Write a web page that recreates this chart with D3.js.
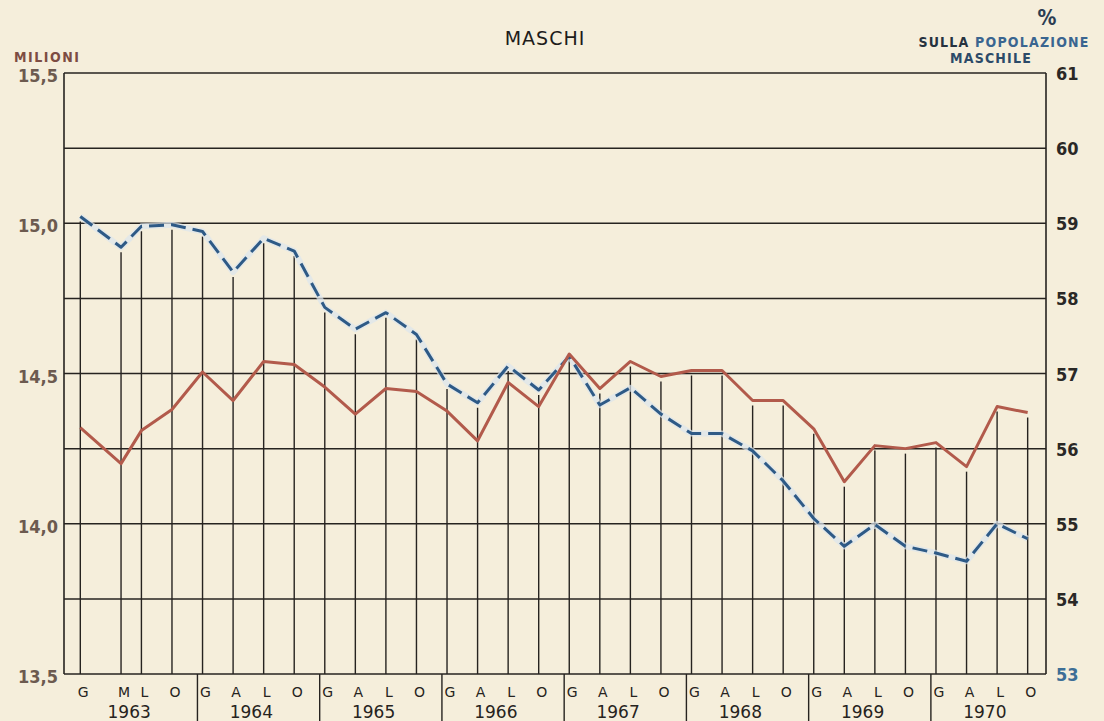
<!DOCTYPE html>
<html>
<head>
<meta charset="utf-8">
<script src="https://cdn.jsdelivr.net/npm/d3@7"></script>
<style>
  html, body { margin: 0; padding: 0; background: #f5eedb; }
  svg { display: block; }
</style>
</head>
<body>
<svg id="chart"></svg>
<script>
// months counted from January 1963 (0 = G 1963)
const months = [0, 4, 6, 9,
  12, 15, 18, 21, 24, 27, 30, 33, 36, 39, 42, 45,
  48, 51, 54, 57, 60, 63, 66, 69, 72, 75, 78, 81,
  84, 87, 90, 93];
const periodLetters = ['G', 'M', 'L', 'O',
  'G', 'A', 'L', 'O', 'G', 'A', 'L', 'O', 'G', 'A', 'L', 'O',
  'G', 'A', 'L', 'O', 'G', 'A', 'L', 'O', 'G', 'A', 'L', 'O',
  'G', 'A', 'L', 'O'];
const years = [1963, 1964, 1965, 1966, 1967, 1968, 1969, 1970];

// forze di lavoro maschili, milioni (linea continua)
const milioni = [14.32, 14.20, 14.31, 14.38,
  14.505, 14.41, 14.54, 14.53,
  14.455, 14.365, 14.45, 14.44,
  14.375, 14.276, 14.47, 14.39,
  14.565, 14.45, 14.54, 14.49,
  14.51, 14.51, 14.41, 14.41,
  14.316, 14.14, 14.26, 14.25,
  14.27, 14.19, 14.39, 14.37];

// % sulla popolazione maschile (linea tratteggiata)
const percento = [59.09, 58.68, 58.96, 58.98,
  58.89, 58.35, 58.80, 58.63,
  57.88, 57.59, 57.81, 57.52,
  56.86, 56.61, 57.10, 56.78,
  57.23, 56.58, 56.81, 56.46,
  56.20, 56.20, 55.97, 55.57,
  55.07, 54.70, 54.99, 54.70,
  54.61, 54.50, 55.00, 54.80];

const leftTicks = [13.5, 14.0, 14.5, 15.0, 15.5];
const gridValues = [13.5, 13.75, 14.0, 14.25, 14.5, 14.75, 15.0, 15.25, 15.5];
const rightTicks = [53, 54, 55, 56, 57, 58, 59, 60, 61];

class LabourChart {

  constructor(_config) {
    this.config = {
      parentElement: _config.parentElement,
      containerWidth: _config.containerWidth || 1104,
      containerHeight: _config.containerHeight || 721,
      frame: _config.frame || {left: 64, right: 1046, top: 73, bottom: 674}
    };
    this.initVis();
  }

  initVis() {
    let vis = this;
    let f = vis.config.frame;

    vis.svg = d3.select(vis.config.parentElement)
      .attr('width', vis.config.containerWidth)
      .attr('height', vis.config.containerHeight);

    vis.svg.append('rect')
      .attr('width', vis.config.containerWidth)
      .attr('height', vis.config.containerHeight)
      .attr('fill', '#f5eedb');

    // month scale: frame edges sit a little outside the first and last point
    vis.xScale = d3.scaleLinear()
      .domain([-1.6, 94.8])
      .range([f.left, f.right]);

    vis.yLeft = d3.scaleLinear()
      .domain([13.5, 15.5])
      .range([f.bottom, f.top]);

    vis.yRight = d3.scaleLinear()
      .domain([53, 61])
      .range([f.bottom, f.top]);

    vis.updateVis();
  }

  updateVis() {
    let vis = this;
    let f = vis.config.frame;
    let x = vis.xScale;
    const ink = '#262320';
    const numFont = '"DejaVu Sans Condensed", "DejaVu Sans", sans-serif';

    // horizontal rulings
    vis.svg.selectAll('.hgrid')
      .data(gridValues)
      .join('line')
      .attr('class', 'hgrid')
      .attr('x1', f.left).attr('x2', f.right)
      .attr('y1', d => vis.yLeft(d)).attr('y2', d => vis.yLeft(d))
      .attr('stroke', ink)
      .attr('stroke-width', 1.5);

    // frame sides
    vis.svg.append('line')
      .attr('x1', f.left).attr('x2', f.left)
      .attr('y1', f.top).attr('y2', f.bottom)
      .attr('stroke', ink).attr('stroke-width', 1.6);
    vis.svg.append('line')
      .attr('x1', f.right).attr('x2', f.right)
      .attr('y1', f.top).attr('y2', f.bottom)
      .attr('stroke', ink).attr('stroke-width', 1.6);

    // vertical rules rising from the base up to the upper curve
    vis.svg.selectAll('.vgrid')
      .data(months)
      .join('line')
      .attr('class', 'vgrid')
      .attr('x1', d => x(d)).attr('x2', d => x(d))
      .attr('y1', f.bottom)
      .attr('y2', (d, i) => Math.min(vis.yLeft(milioni[i]), vis.yRight(percento[i])) + 5)
      .attr('stroke', ink)
      .attr('stroke-width', 1.4);

    // year separators in the label band
    vis.svg.selectAll('.ysep')
      .data(years.slice(1))
      .join('line')
      .attr('class', 'ysep')
      .attr('x1', d => x((d - 1963) * 12 - 0.5))
      .attr('x2', d => x((d - 1963) * 12 - 0.5))
      .attr('y1', f.bottom)
      .attr('y2', vis.config.containerHeight)
      .attr('stroke', ink)
      .attr('stroke-width', 1.4);

    // curves
    const lineLeft = d3.line()
      .x((d, i) => x(months[i]))
      .y(d => vis.yLeft(d));
    const lineRight = d3.line()
      .x((d, i) => x(months[i]))
      .y(d => vis.yRight(d));

    vis.svg.append('path')
      .datum(percento)
      .attr('d', lineRight)
      .attr('fill', 'none')
      .attr('stroke', '#dbe6ee')
      .attr('stroke-width', 6)
      .attr('stroke-linejoin', 'round')
      .attr('opacity', 0.7);

    vis.svg.append('path')
      .datum(percento)
      .attr('d', lineRight)
      .attr('fill', 'none')
      .attr('stroke', '#2e5a86')
      .attr('stroke-width', 3)
      .attr('stroke-dasharray', '15,7')
      .attr('stroke-linejoin', 'round');

    vis.svg.append('path')
      .datum(milioni)
      .attr('d', lineLeft)
      .attr('fill', 'none')
      .attr('stroke', '#b25a4b')
      .attr('stroke-width', 3)
      .attr('stroke-linejoin', 'round');

    // left tick labels
    vis.svg.selectAll('.ltick')
      .data(leftTicks)
      .join('text')
      .attr('class', 'ltick')
      .attr('x', 58)
      .attr('y', d => vis.yLeft(d) + 9)
      .attr('text-anchor', 'end')
      .style('font-family', numFont)
      .style('font-weight', 'bold')
      .style('font-size', '18px')
      .attr('fill', '#6c5a4f')
      .text(d => d3.format('.1f')(d).replace('.', ','));

    // right tick labels
    vis.svg.selectAll('.rtick')
      .data(rightTicks)
      .join('text')
      .attr('class', 'rtick')
      .attr('x', 1056)
      .attr('y', d => vis.yRight(d) + 7)
      .style('font-family', numFont)
      .style('font-weight', 'bold')
      .style('font-size', '18px')
      .attr('fill', d => d === 53 ? '#3d6e96' : '#2a2826')
      .text(d => d);

    // period letters
    vis.svg.selectAll('.period')
      .data(periodLetters)
      .join('text')
      .attr('class', 'period')
      .attr('x', (d, i) => x(months[i]) + 3)
      .attr('y', 697)
      .attr('text-anchor', 'middle')
      .style('font-family', '"DejaVu Sans", sans-serif')
      .style('font-size', '14px')
      .attr('fill', ink)
      .text(d => d);

    // years
    vis.svg.selectAll('.year')
      .data(years)
      .join('text')
      .attr('class', 'year')
      .attr('x', d => x((d - 1963) * 12 + 4.5) + 3)
      .attr('y', 718)
      .attr('text-anchor', 'middle')
      .style('font-family', '"DejaVu Sans", sans-serif')
      .style('font-size', '17px')
      .attr('fill', ink)
      .text(d => d);

    // titles
    vis.svg.append('text')
      .attr('x', 545)
      .attr('y', 45)
      .attr('text-anchor', 'middle')
      .style('font-family', '"DejaVu Sans", sans-serif')
      .style('font-size', '19px')
      .style('letter-spacing', '1px')
      .attr('fill', '#1e1c1a')
      .text('MASCHI');

    vis.svg.append('text')
      .attr('x', 14)
      .attr('y', 62)
      .style('font-family', numFont)
      .style('font-weight', 'bold')
      .style('font-size', '14px')
      .style('letter-spacing', '1.5px')
      .attr('fill', '#7d4c42')
      .text('MILIONI');

    vis.svg.append('text')
      .attr('x', 1047)
      .attr('y', 25)
      .attr('text-anchor', 'middle')
      .style('font-family', numFont)
      .style('font-weight', 'bold')
      .style('font-size', '21px')
      .attr('fill', '#2c3d52')
      .text('%');

    let sub = vis.svg.append('text')
      .attr('x', 1004)
      .attr('y', 47)
      .attr('text-anchor', 'middle')
      .style('font-family', numFont)
      .style('font-weight', 'bold')
      .style('font-size', '14px')
      .style('letter-spacing', '1.2px');
    sub.append('tspan').attr('fill', '#26323f').text('SULLA ');
    sub.append('tspan').attr('fill', '#3a6590').text('POPOLAZIONE');

    vis.svg.append('text')
      .attr('x', 991)
      .attr('y', 63)
      .attr('text-anchor', 'middle')
      .style('font-family', numFont)
      .style('font-weight', 'bold')
      .style('font-size', '14px')
      .style('letter-spacing', '1.2px')
      .attr('fill', '#2c4a68')
      .text('MASCHILE');
  }
}

new LabourChart({parentElement: '#chart'});
</script>
</body>
</html>
